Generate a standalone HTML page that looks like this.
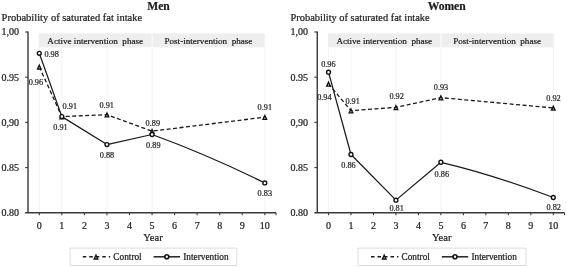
<!DOCTYPE html>
<html><head><meta charset="utf-8"><title>Probability of saturated fat intake</title>
<style>
html,body{margin:0;padding:0;background:#fff;}
body{width:567px;height:267px;overflow:hidden;}
svg{display:block;}
text{stroke:#1c1c1c;stroke-width:0.22px;}
svg{filter:grayscale(1);font-family:"Liberation Serif",serif;fill:#1c1c1c;}
</style></head><body>
<svg width="567" height="267" viewBox="0 0 567 267">
<rect width="567" height="267" fill="#fff"/>
<text x="158.5" y="9.5" text-anchor="middle" font-size="11.6" font-weight="bold">Men</text>
<text x="1.6" y="21.4" font-size="10.5">Probability of saturated fat intake</text>
<line x1="39.30" y1="33.5" x2="39.30" y2="212" stroke="#f0f0f0" stroke-width="0.8"/>
<line x1="61.85" y1="33.5" x2="61.85" y2="212" stroke="#f0f0f0" stroke-width="0.8"/>
<line x1="106.95" y1="33.5" x2="106.95" y2="212" stroke="#f0f0f0" stroke-width="0.8"/>
<line x1="152.05" y1="33.5" x2="152.05" y2="212" stroke="#f0f0f0" stroke-width="0.8"/>
<line x1="264.80" y1="33.5" x2="264.80" y2="212" stroke="#f0f0f0" stroke-width="0.8"/>
<rect x="39.00" y="33.4" width="112.45" height="14" fill="#eeeeee"/>
<rect x="152.85" y="33.4" width="111.55" height="14" fill="#eeeeee"/>
<text x="95.23" y="43.6" text-anchor="middle" font-size="9.1" style="white-space:pre" xml:space="preserve">Active intervention  phase</text>
<text x="208.43" y="43.6" text-anchor="middle" font-size="9.1" style="white-space:pre" xml:space="preserve">Post-intervention  phase</text>
<path d="M28.02 31.6 V213.4 M25.12 212.8 H276.07" stroke="#3a3a3a" stroke-width="1.4" fill="none"/>
<line x1="25.12" y1="32.00" x2="28.02" y2="32.00" stroke="#3a3a3a" stroke-width="1.1"/>
<text x="1.6" y="35.10" font-size="10">1,00</text>
<line x1="25.12" y1="77.20" x2="28.02" y2="77.20" stroke="#3a3a3a" stroke-width="1.1"/>
<text x="1.6" y="80.80" font-size="10">0.95</text>
<line x1="25.12" y1="122.40" x2="28.02" y2="122.40" stroke="#3a3a3a" stroke-width="1.1"/>
<text x="1.6" y="125.50" font-size="10">0,90</text>
<line x1="25.12" y1="167.60" x2="28.02" y2="167.60" stroke="#3a3a3a" stroke-width="1.1"/>
<text x="1.6" y="170.70" font-size="10">0.85</text>
<text x="1.6" y="215.90" font-size="10">0.80</text>
<line x1="39.30" y1="212.8" x2="39.30" y2="215.2" stroke="#3a3a3a" stroke-width="1.1"/>
<text x="39.30" y="228.7" text-anchor="middle" font-size="10">0</text>
<line x1="61.85" y1="212.8" x2="61.85" y2="215.2" stroke="#3a3a3a" stroke-width="1.1"/>
<text x="61.85" y="228.7" text-anchor="middle" font-size="10">1</text>
<line x1="84.40" y1="212.8" x2="84.40" y2="215.2" stroke="#3a3a3a" stroke-width="1.1"/>
<text x="84.40" y="228.7" text-anchor="middle" font-size="10">2</text>
<line x1="106.95" y1="212.8" x2="106.95" y2="215.2" stroke="#3a3a3a" stroke-width="1.1"/>
<text x="106.95" y="228.7" text-anchor="middle" font-size="10">3</text>
<line x1="129.50" y1="212.8" x2="129.50" y2="215.2" stroke="#3a3a3a" stroke-width="1.1"/>
<text x="129.50" y="228.7" text-anchor="middle" font-size="10">4</text>
<line x1="152.05" y1="212.8" x2="152.05" y2="215.2" stroke="#3a3a3a" stroke-width="1.1"/>
<text x="152.05" y="228.7" text-anchor="middle" font-size="10">5</text>
<line x1="174.60" y1="212.8" x2="174.60" y2="215.2" stroke="#3a3a3a" stroke-width="1.1"/>
<text x="174.60" y="228.7" text-anchor="middle" font-size="10">6</text>
<line x1="197.15" y1="212.8" x2="197.15" y2="215.2" stroke="#3a3a3a" stroke-width="1.1"/>
<text x="197.15" y="228.7" text-anchor="middle" font-size="10">7</text>
<line x1="219.70" y1="212.8" x2="219.70" y2="215.2" stroke="#3a3a3a" stroke-width="1.1"/>
<text x="219.70" y="228.7" text-anchor="middle" font-size="10">8</text>
<line x1="242.25" y1="212.8" x2="242.25" y2="215.2" stroke="#3a3a3a" stroke-width="1.1"/>
<text x="242.25" y="228.7" text-anchor="middle" font-size="10">9</text>
<line x1="264.80" y1="212.8" x2="264.80" y2="215.2" stroke="#3a3a3a" stroke-width="1.1"/>
<text x="264.80" y="228.7" text-anchor="middle" font-size="10">10</text>
<line x1="276.07" y1="212.8" x2="276.07" y2="215.2" stroke="#3a3a3a" stroke-width="1.1"/>
<text x="152.95" y="241.2" text-anchor="middle" font-size="10.6">Year</text>
<polyline points="39.30,66.80 61.85,116.61 106.95,114.72 152.05,131.17 264.80,117.16" fill="none" stroke="#1a1a1a" stroke-width="1.3" stroke-dasharray="4 2.5"/>
<path d="M39.30 53.33 L61.85 116.61 L106.95 144.55 L152.05 134.51 Q208.10 154.90 264.80 182.97" fill="none" stroke="#1a1a1a" stroke-width="1.25" stroke-linejoin="round"/>
<path d="M39.30 65.20 L41.05 69.00 H37.55 Z" fill="#fff" stroke="#111" stroke-width="1.4"/>
<path d="M61.85 115.01 L63.60 118.81 H60.10 Z" fill="#fff" stroke="#111" stroke-width="1.4"/>
<path d="M106.95 113.12 L108.70 116.92 H105.20 Z" fill="#fff" stroke="#111" stroke-width="1.4"/>
<path d="M152.05 129.57 L153.80 133.37 H150.30 Z" fill="#fff" stroke="#111" stroke-width="1.4"/>
<path d="M264.80 115.56 L266.55 119.36 H263.05 Z" fill="#fff" stroke="#111" stroke-width="1.4"/>
<circle cx="39.30" cy="53.33" r="1.95" fill="#fff" stroke="#111" stroke-width="1.4"/>
<circle cx="61.85" cy="116.61" r="1.95" fill="#fff" stroke="#111" stroke-width="1.4"/>
<circle cx="106.95" cy="144.55" r="1.95" fill="#fff" stroke="#111" stroke-width="1.4"/>
<circle cx="152.05" cy="134.51" r="1.95" fill="#fff" stroke="#111" stroke-width="1.4"/>
<circle cx="264.80" cy="182.97" r="1.95" fill="#fff" stroke="#111" stroke-width="1.4"/>
<text x="51.60" y="56.60" text-anchor="middle" font-size="8.25" fill="#2b2b2b" stroke="#2b2b2b" stroke-width="0.08">0.98</text>
<text x="35.90" y="85.00" text-anchor="middle" font-size="8.25" fill="#2b2b2b" stroke="#2b2b2b" stroke-width="0.08">0.96</text>
<text x="69.80" y="108.80" text-anchor="middle" font-size="8.25" fill="#2b2b2b" stroke="#2b2b2b" stroke-width="0.08">0.91</text>
<text x="60.50" y="130.10" text-anchor="middle" font-size="8.25" fill="#2b2b2b" stroke="#2b2b2b" stroke-width="0.08">0.91</text>
<text x="106.70" y="107.90" text-anchor="middle" font-size="8.25" fill="#2b2b2b" stroke="#2b2b2b" stroke-width="0.08">0.91</text>
<text x="107.00" y="157.80" text-anchor="middle" font-size="8.25" fill="#2b2b2b" stroke="#2b2b2b" stroke-width="0.08">0.88</text>
<text x="152.80" y="125.50" text-anchor="middle" font-size="8.25" fill="#2b2b2b" stroke="#2b2b2b" stroke-width="0.08">0.89</text>
<text x="153.30" y="148.10" text-anchor="middle" font-size="8.25" fill="#2b2b2b" stroke="#2b2b2b" stroke-width="0.08">0.89</text>
<text x="264.80" y="110.00" text-anchor="middle" font-size="8.25" fill="#2b2b2b" stroke="#2b2b2b" stroke-width="0.08">0.91</text>
<text x="264.80" y="195.90" text-anchor="middle" font-size="8.25" fill="#2b2b2b" stroke="#2b2b2b" stroke-width="0.08">0.83</text>
<rect x="70.10" y="248.1" width="166.6" height="17.4" fill="#fff" stroke="#d9d9d9" stroke-width="0.9"/>
<line x1="82.80" y1="256.8" x2="110.20" y2="256.8" stroke="#1a1a1a" stroke-width="1.4" stroke-dasharray="3.5 3"/>
<path d="M96.00 255.20 L97.75 259.00 H94.25 Z" fill="#fff" stroke="#111" stroke-width="1.4"/>
<text x="113.30" y="259.6" font-size="9.3">Control</text>
<line x1="153.60" y1="256.8" x2="180.00" y2="256.8" stroke="#1a1a1a" stroke-width="1.45"/>
<circle cx="166.80" cy="256.8" r="2.0" fill="#fff" stroke="#111" stroke-width="1.6"/>
<text x="183.20" y="259.6" font-size="9.3">Intervention</text>
<text x="446.7" y="9.5" text-anchor="middle" font-size="11.6" font-weight="bold">Women</text>
<text x="290.6" y="21.4" font-size="10.4">Probability of saturated fat intake</text>
<line x1="328.50" y1="33.5" x2="328.50" y2="212" stroke="#f0f0f0" stroke-width="0.8"/>
<line x1="350.98" y1="33.5" x2="350.98" y2="212" stroke="#f0f0f0" stroke-width="0.8"/>
<line x1="395.94" y1="33.5" x2="395.94" y2="212" stroke="#f0f0f0" stroke-width="0.8"/>
<line x1="440.90" y1="33.5" x2="440.90" y2="212" stroke="#f0f0f0" stroke-width="0.8"/>
<line x1="553.30" y1="33.5" x2="553.30" y2="212" stroke="#f0f0f0" stroke-width="0.8"/>
<rect x="328.20" y="33.4" width="112.10" height="14" fill="#eeeeee"/>
<rect x="441.70" y="33.4" width="111.20" height="14" fill="#eeeeee"/>
<text x="384.25" y="43.6" text-anchor="middle" font-size="9.1" style="white-space:pre" xml:space="preserve">Active intervention  phase</text>
<text x="497.10" y="43.6" text-anchor="middle" font-size="9.1" style="white-space:pre" xml:space="preserve">Post-intervention  phase</text>
<path d="M317.26 31.6 V213.4 M314.36 212.8 H564.54" stroke="#3a3a3a" stroke-width="1.4" fill="none"/>
<line x1="314.36" y1="32.00" x2="317.26" y2="32.00" stroke="#3a3a3a" stroke-width="1.1"/>
<text x="290.6" y="35.10" font-size="10">1,00</text>
<line x1="314.36" y1="77.20" x2="317.26" y2="77.20" stroke="#3a3a3a" stroke-width="1.1"/>
<text x="290.6" y="80.80" font-size="10">0.95</text>
<line x1="314.36" y1="122.40" x2="317.26" y2="122.40" stroke="#3a3a3a" stroke-width="1.1"/>
<text x="290.6" y="125.50" font-size="10">0,90</text>
<line x1="314.36" y1="167.60" x2="317.26" y2="167.60" stroke="#3a3a3a" stroke-width="1.1"/>
<text x="290.6" y="170.70" font-size="10">0.85</text>
<text x="290.6" y="215.90" font-size="10">0.80</text>
<line x1="328.50" y1="212.8" x2="328.50" y2="215.2" stroke="#3a3a3a" stroke-width="1.1"/>
<text x="328.50" y="228.7" text-anchor="middle" font-size="10">0</text>
<line x1="350.98" y1="212.8" x2="350.98" y2="215.2" stroke="#3a3a3a" stroke-width="1.1"/>
<text x="350.98" y="228.7" text-anchor="middle" font-size="10">1</text>
<line x1="373.46" y1="212.8" x2="373.46" y2="215.2" stroke="#3a3a3a" stroke-width="1.1"/>
<text x="373.46" y="228.7" text-anchor="middle" font-size="10">2</text>
<line x1="395.94" y1="212.8" x2="395.94" y2="215.2" stroke="#3a3a3a" stroke-width="1.1"/>
<text x="395.94" y="228.7" text-anchor="middle" font-size="10">3</text>
<line x1="418.42" y1="212.8" x2="418.42" y2="215.2" stroke="#3a3a3a" stroke-width="1.1"/>
<text x="418.42" y="228.7" text-anchor="middle" font-size="10">4</text>
<line x1="440.90" y1="212.8" x2="440.90" y2="215.2" stroke="#3a3a3a" stroke-width="1.1"/>
<text x="440.90" y="228.7" text-anchor="middle" font-size="10">5</text>
<line x1="463.38" y1="212.8" x2="463.38" y2="215.2" stroke="#3a3a3a" stroke-width="1.1"/>
<text x="463.38" y="228.7" text-anchor="middle" font-size="10">6</text>
<line x1="485.86" y1="212.8" x2="485.86" y2="215.2" stroke="#3a3a3a" stroke-width="1.1"/>
<text x="485.86" y="228.7" text-anchor="middle" font-size="10">7</text>
<line x1="508.34" y1="212.8" x2="508.34" y2="215.2" stroke="#3a3a3a" stroke-width="1.1"/>
<text x="508.34" y="228.7" text-anchor="middle" font-size="10">8</text>
<line x1="530.82" y1="212.8" x2="530.82" y2="215.2" stroke="#3a3a3a" stroke-width="1.1"/>
<text x="530.82" y="228.7" text-anchor="middle" font-size="10">9</text>
<line x1="553.30" y1="212.8" x2="553.30" y2="215.2" stroke="#3a3a3a" stroke-width="1.1"/>
<text x="553.30" y="228.7" text-anchor="middle" font-size="10">10</text>
<line x1="564.54" y1="212.8" x2="564.54" y2="215.2" stroke="#3a3a3a" stroke-width="1.1"/>
<text x="441.80" y="241.2" text-anchor="middle" font-size="10.6">Year</text>
<polyline points="328.50,83.89 350.98,110.65 395.94,107.39 440.90,97.63 553.30,107.94" fill="none" stroke="#1a1a1a" stroke-width="1.3" stroke-dasharray="4 2.5"/>
<path d="M328.50 72.14 L350.98 154.49 L395.94 200.14 L440.90 162.27 Q492.60 174.40 553.30 197.52" fill="none" stroke="#1a1a1a" stroke-width="1.25" stroke-linejoin="round"/>
<path d="M328.50 82.29 L330.25 86.09 H326.75 Z" fill="#fff" stroke="#111" stroke-width="1.4"/>
<path d="M350.98 109.05 L352.73 112.85 H349.23 Z" fill="#fff" stroke="#111" stroke-width="1.4"/>
<path d="M395.94 105.79 L397.69 109.59 H394.19 Z" fill="#fff" stroke="#111" stroke-width="1.4"/>
<path d="M440.90 96.03 L442.65 99.83 H439.15 Z" fill="#fff" stroke="#111" stroke-width="1.4"/>
<path d="M553.30 106.34 L555.05 110.14 H551.55 Z" fill="#fff" stroke="#111" stroke-width="1.4"/>
<circle cx="328.50" cy="72.14" r="1.95" fill="#fff" stroke="#111" stroke-width="1.4"/>
<circle cx="350.98" cy="154.49" r="1.95" fill="#fff" stroke="#111" stroke-width="1.4"/>
<circle cx="395.94" cy="200.14" r="1.95" fill="#fff" stroke="#111" stroke-width="1.4"/>
<circle cx="440.90" cy="162.27" r="1.95" fill="#fff" stroke="#111" stroke-width="1.4"/>
<circle cx="553.30" cy="197.52" r="1.95" fill="#fff" stroke="#111" stroke-width="1.4"/>
<text x="328.40" y="66.90" text-anchor="middle" font-size="8.25" fill="#2b2b2b" stroke="#2b2b2b" stroke-width="0.08">0.96</text>
<text x="324.40" y="99.90" text-anchor="middle" font-size="8.25" fill="#2b2b2b" stroke="#2b2b2b" stroke-width="0.08">0.94</text>
<text x="352.60" y="103.70" text-anchor="middle" font-size="8.25" fill="#2b2b2b" stroke="#2b2b2b" stroke-width="0.08">0.91</text>
<text x="348.50" y="168.20" text-anchor="middle" font-size="8.25" fill="#2b2b2b" stroke="#2b2b2b" stroke-width="0.08">0.86</text>
<text x="396.60" y="99.20" text-anchor="middle" font-size="8.25" fill="#2b2b2b" stroke="#2b2b2b" stroke-width="0.08">0.92</text>
<text x="396.60" y="210.60" text-anchor="middle" font-size="8.25" fill="#2b2b2b" stroke="#2b2b2b" stroke-width="0.08">0.81</text>
<text x="441.00" y="89.50" text-anchor="middle" font-size="8.25" fill="#2b2b2b" stroke="#2b2b2b" stroke-width="0.08">0.93</text>
<text x="441.80" y="177.00" text-anchor="middle" font-size="8.25" fill="#2b2b2b" stroke="#2b2b2b" stroke-width="0.08">0.86</text>
<text x="553.50" y="101.40" text-anchor="middle" font-size="8.25" fill="#2b2b2b" stroke="#2b2b2b" stroke-width="0.08">0.92</text>
<text x="553.70" y="209.60" text-anchor="middle" font-size="8.25" fill="#2b2b2b" stroke="#2b2b2b" stroke-width="0.08">0.82</text>
<rect x="358.00" y="248.1" width="168.0" height="17.4" fill="#fff" stroke="#d9d9d9" stroke-width="0.9"/>
<line x1="371.00" y1="256.8" x2="398.40" y2="256.8" stroke="#1a1a1a" stroke-width="1.4" stroke-dasharray="3.5 3"/>
<path d="M384.20 255.20 L385.95 259.00 H382.45 Z" fill="#fff" stroke="#111" stroke-width="1.4"/>
<text x="401.50" y="259.6" font-size="9.3">Control</text>
<line x1="441.80" y1="256.8" x2="468.20" y2="256.8" stroke="#1a1a1a" stroke-width="1.45"/>
<circle cx="455.00" cy="256.8" r="2.0" fill="#fff" stroke="#111" stroke-width="1.6"/>
<text x="471.40" y="259.6" font-size="9.3">Intervention</text>
</svg>
</body></html>
